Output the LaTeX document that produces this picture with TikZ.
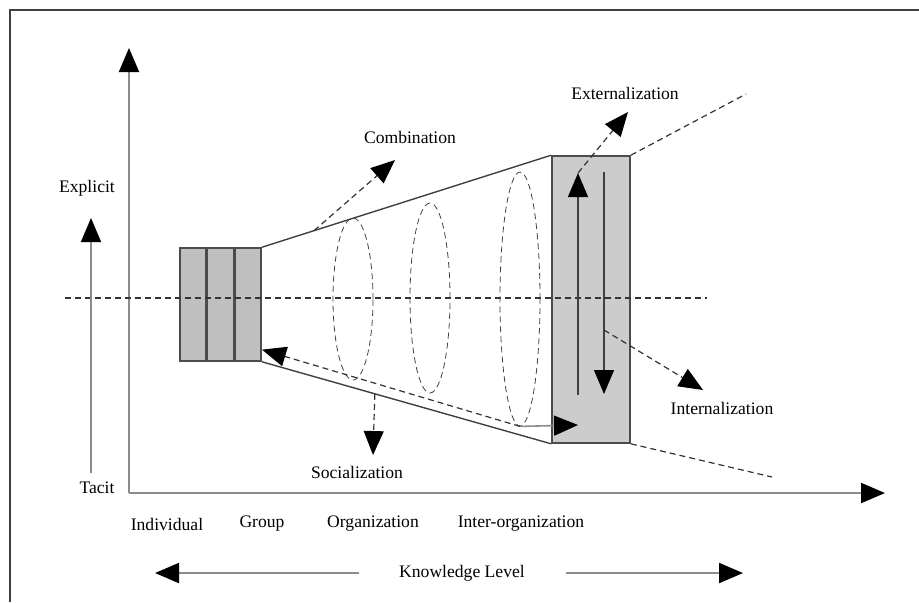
\documentclass[tikz,border=0pt]{standalone}
\usepackage{fontspec}
\setmainfont{Liberation Serif}
\usetikzlibrary{positioning,arrows.meta,shapes.geometric}

\begin{document}
\begin{tikzpicture}[x=0.5pt, y=-0.5pt,
  lbl/.style={font=\fontsize{8.8}{10}\selectfont, inner sep=1pt},
  blk/.style={draw=black!70, line width=0.8pt, fill=black!25, minimum width=13pt, minimum height=56.5pt, inner sep=0pt},
  ring/.style={draw=black!75, dashed, dash pattern=on 3pt off 2pt, ellipse, minimum width=20pt, inner sep=0pt},
  arr/.style={-{Triangle[width=10pt,length=12pt,black]}},
  axis/.style={arr, draw=black!45, line width=1pt},
  dsh/.style={arr, draw=black!80, line width=0.6pt, dash pattern=on 3pt off 2pt}
]
\useasboundingbox (0,0) rectangle (919,602);
% frame
\draw[black!75, line width=1pt] (10,602) -- (10,10) -- (919,10);

% axes
\coordinate (o) at (129,493);
\coordinate (ytop) at (129,48);
\coordinate (xend) at (885,493);
\draw[axis] (o) -- (ytop);
\draw[axis] (o) -- (xend);

% knowledge blocks
\node[blk] (b1) at (193,304.5) {};
\node[blk, right=0pt of b1] (b2) {};
\node[blk, right=0pt of b2] (b3) {};
\node[blk, fill=black!20, minimum width=39pt, minimum height=143.5pt] (big) at (591,299.5) {};
\draw[black!80, line width=0.6pt, dash pattern=on 3pt off 2pt] (65,298) -- (707,298);

% funnel
\draw[black!75, line width=0.7pt] (b3.north east) -- coordinate[pos=0.18] (cfrom) (big.north west);
\draw[black!75, line width=0.7pt] (b3.south east) -- coordinate[pos=0.39] (sfrom) (big.south west);
\draw[black!80, line width=0.6pt, dash pattern=on 3pt off 2pt] (big.north east) -- (746,94);
\draw[black!80, line width=0.6pt, dash pattern=on 3pt off 2pt] (big.south east) -- (772,477);

\node[ring, minimum height=81pt] (e1) at (353,299) {};
\node[ring, minimum height=95pt] (e2) at (430,298) {};
\node[ring, minimum height=127pt] (e3) at (520,299) {};

% tacit/explicit
\coordinate (tbot) at (91,473);
\coordinate (ttop) at (91,218);
\draw[axis, line width=0.8pt] (tbot) -- (ttop);
\node[lbl] (expl) at (87,188) {Explicit};
\node[lbl] (tac) at (97,488) {Tacit};

% conversion arrows
\coordinate (ubot) at (578,395);
\coordinate (utop) at (578,173);
\coordinate (dtop) at (604,172);
\coordinate (dbot) at (604,394);
\coordinate (ifrom) at (604,330);
\draw[arr, black!75, line width=0.6pt] (ubot) -- (utop);
\draw[arr, black!75, line width=0.6pt] (dtop) -- (dbot);

\node[lbl] (comb) at (410,137) {Combination};
\node[lbl] (ext) at (625,93) {Externalization};
\node[lbl] (int) at (722,408) {Internalization};
\node[lbl] (soc) at (357,472) {Socialization};
\coordinate (ctip) at (395,160);
\coordinate (etip) at (628,112);
\coordinate (itip) at (703,390);
\coordinate (stip) at (373,455);
\coordinate (btip) at (578,425);
\draw[dsh] (cfrom) -- (ctip);
\draw[dsh] (utop) -- (etip);
\draw[dsh] (ifrom) -- (itip);
\draw[dsh] (sfrom) -- (stip);
\draw[dsh] (e3.south) -- (b3.-73);
\draw[arr, black!45, line width=0.8pt] (e3.south) -- (btip);

% levels
\node[lbl] (ind) at (167,524) {Individual};
\node[lbl] (grp) at (262,524) {Group};
\node[lbl] (org) at (373,524) {Organization};
\node[lbl] (inter) at (521,524) {Inter-organization};
\node[lbl] (kl) at (462,573) {Knowledge Level};
\coordinate (kll) at (155,573);
\coordinate (klr) at (743,573);
\draw[axis] (kl.west) ++(-38,0) -- (kll);
\draw[axis] (kl.east) ++(39,0) -- (klr);
\end{tikzpicture}
\end{document}
